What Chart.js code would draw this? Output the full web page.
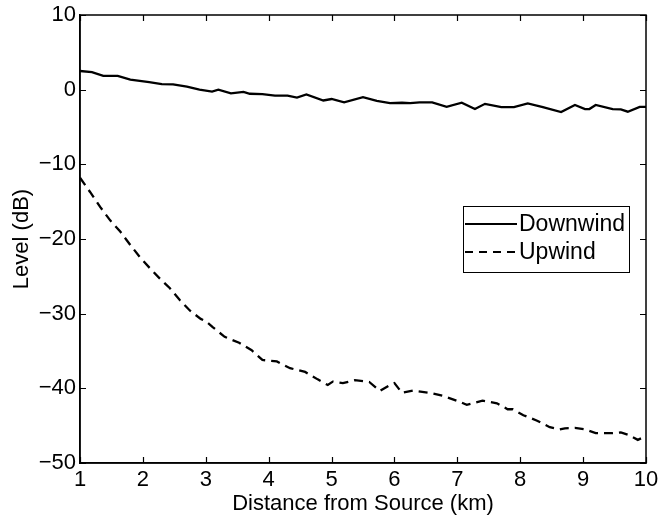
<!DOCTYPE html>
<html>
<head>
<meta charset="utf-8">
<script src="https://cdn.jsdelivr.net/npm/chart.js@4/dist/chart.umd.min.js"></script>
<style>
  html, body { margin: 0; padding: 0; background: #ffffff; }
  #wrap { width: 660px; height: 517px; position: relative; }
</style>
</head>
<body>
<div id="wrap"><canvas id="c" width="660" height="517"></canvas></div>
<script>
// ---- data ----
const xTicks = [1, 2, 3, 4, 5, 6, 7, 8, 9, 10];
const yTicks = [-50, -40, -30, -20, -10, 0, 10];

const downwindX = [1, 1.19, 1.37, 1.6, 1.8, 2.1, 2.3, 2.48, 2.7, 2.9, 3.1, 3.2, 3.4, 3.6, 3.7, 3.9,
  4.1, 4.3, 4.45, 4.6, 4.87, 5.0, 5.2, 5.5, 5.72, 5.93, 6.12, 6.25, 6.4, 6.6, 6.83, 7.07, 7.28,
  7.44, 7.7, 7.9, 8.12, 8.36, 8.65, 8.87, 9.03, 9.1, 9.2, 9.47, 9.6, 9.71, 9.9, 10];
const downwindY = [2.5, 2.35, 1.85, 1.85, 1.35, 1.0, 0.75, 0.72, 0.4, 0.0, -0.25, 0.0, -0.5, -0.3, -0.55, -0.6,
  -0.8, -0.8, -1.05, -0.65, -1.45, -1.25, -1.7, -1.0, -1.5, -1.8, -1.75, -1.8, -1.7, -1.7, -2.3, -1.75, -2.6,
  -1.9, -2.35, -2.35, -1.85, -2.35, -3.0, -2.05, -2.6, -2.6, -2.05, -2.6, -2.65, -2.95, -2.3, -2.3];

const upwindX = [1.0, 1.16, 1.32, 1.48, 1.64, 1.8, 1.95, 2.11, 2.27, 2.43, 2.59, 2.75, 2.92, 3.0, 3.11,
  3.3, 3.53, 3.73, 3.9, 4.13, 4.34, 4.58, 4.78, 4.94, 5.02, 5.18, 5.37, 5.6, 5.77, 5.93, 6.0, 6.12,
  6.3, 6.56, 6.77, 6.99, 7.15, 7.4, 7.63, 7.8, 7.88, 8.05, 8.26, 8.47, 8.63, 8.71, 8.87, 9.03, 9.2,
  9.47, 9.6, 9.71, 9.87, 10];
const upwindY = [-11.8, -13.7, -15.7, -17.5, -19.0, -20.8, -22.4, -23.9, -25.3, -26.6, -28.2, -29.6, -30.7, -31.0, -31.8,
  -33.1, -33.9, -34.9, -36.2, -36.4, -37.3, -37.8, -38.8, -39.55, -39.1, -39.3, -38.9, -39.15, -40.35, -39.55, -39.3, -40.6,
  -40.3, -40.6, -41.0, -41.65, -42.2, -41.65, -42.0, -42.8, -42.8, -43.6, -44.3, -45.2, -45.5, -45.35, -45.3, -45.5, -46.0,
  -46.0, -45.9, -46.2, -46.9, -46.4];

const seriesNames = ['Downwind', 'Upwind'];
const xTitle = 'Distance from Source (km)';
const yTitle = 'Level (dB)';

// ---- build ----
const FONT = "'Liberation Sans', Arial, Helvetica, sans-serif";
const FS = 22;
const toPts = (xs, ys) => xs.map((x, i) => ({ x: x, y: ys[i] }));
const fmt = v => String(v).replace('-', '\u2212');

// inward tick marks on all four sides + box frame
const framePlugin = {
  id: 'frame',
  afterDatasetsDraw(chart) {
    const { ctx, chartArea: a, scales } = chart;
    ctx.save();
    ctx.strokeStyle = '#000';
    ctx.lineWidth = 1.2;
    const L = 6;
    ctx.beginPath();
    xTicks.forEach(v => {
      const px = Math.round(scales.x.getPixelForValue(v)) + 0.5;
      ctx.moveTo(px, a.bottom); ctx.lineTo(px, a.bottom - L);
      ctx.moveTo(px, a.top); ctx.lineTo(px, a.top + L);
    });
    yTicks.forEach(v => {
      const py = Math.round(scales.y.getPixelForValue(v)) + 0.5;
      ctx.moveTo(a.left, py); ctx.lineTo(a.left + L, py);
      ctx.moveTo(a.right, py); ctx.lineTo(a.right - L, py);
    });
    ctx.stroke();
    ctx.lineWidth = 1.5;
    ctx.strokeRect(a.left, a.top, a.right - a.left, a.bottom - a.top);
    ctx.restore();
  }
};

// legend box drawn inside the plot area
const legendPlugin = {
  id: 'boxLegend',
  afterDatasetsDraw(chart) {
    const { ctx, chartArea: a } = chart;
    const w = 166, h = 66;
    const x0 = a.right - 17 - w;
    const y0 = a.top + 191;
    ctx.save();
    ctx.fillStyle = '#fff';
    ctx.fillRect(x0, y0, w, h);
    ctx.strokeStyle = '#000';
    ctx.lineWidth = 1;
    ctx.strokeRect(x0 + 0.5, y0 + 0.5, w, h);
    ctx.font = '23px ' + FONT;
    ctx.textBaseline = 'middle';
    ctx.fillStyle = '#000';
    chart.data.datasets.forEach((ds, i) => {
      const y = y0 + 18 + i * 28;
      ctx.beginPath();
      ctx.lineWidth = 2;
      ctx.setLineDash(ds.legendDash || []);
      ctx.moveTo(x0 + 2, y);
      ctx.lineTo(x0 + 54, y);
      ctx.stroke();
      ctx.setLineDash([]);
      ctx.fillText(ds.label, x0 + 56, y + 1);
    });
    ctx.restore();
  }
};

new Chart(document.getElementById('c'), {
  type: 'line',
  data: {
    datasets: [
      { label: seriesNames[0], data: toPts(downwindX, downwindY), borderColor: '#000', borderWidth: 2.3,
        pointRadius: 0, tension: 0, fill: false },
      { label: seriesNames[1], data: toPts(upwindX, upwindY), borderColor: '#000', borderWidth: 2.3,
        borderDash: [9, 6], legendDash: [8, 6], pointRadius: 0, tension: 0, fill: false }
    ]
  },
  options: {
    responsive: false,
    animation: false,
    devicePixelRatio: 1,
    layout: { padding: { left: 0, right: 14, top: 15, bottom: 0 } },
    plugins: { legend: { display: false }, tooltip: { enabled: false } },
    scales: {
      x: {
        type: 'linear', min: 1, max: 10,
        afterBuildTicks: s => { s.ticks = xTicks.map(v => ({ value: v })); },
        afterFit: s => { s.height = 54; s.paddingLeft = 0; s.paddingRight = 0; },
        ticks: { color: '#000', font: { family: FONT, size: FS }, padding: 4, maxRotation: 0,
                 callback: v => fmt(v) },
        grid: { display: true, drawOnChartArea: false, drawTicks: false },
        border: { display: true, color: '#000', width: 1.5 },
        title: { display: true, text: xTitle, color: '#000', font: { family: FONT, size: FS },
                 padding: { top: 0, bottom: 0 } }
      },
      y: {
        type: 'linear', min: -50, max: 10,
        afterBuildTicks: s => { s.ticks = yTicks.map(v => ({ value: v })); },
        afterFit: s => { s.width = 80; s.paddingTop = 0; s.paddingBottom = 0; },
        ticks: { color: '#000', font: { family: FONT, size: FS }, padding: 4,
                 callback: v => fmt(v) },
        grid: { display: true, drawOnChartArea: false, drawTicks: false },
        border: { display: true, color: '#000', width: 1.5 },
        title: { display: true, text: yTitle, color: '#000', font: { family: FONT, size: FS },
                 padding: { top: 9, bottom: 0 } }
      }
    }
  },
  plugins: [framePlugin, legendPlugin]
});
</script>
</body>
</html>
